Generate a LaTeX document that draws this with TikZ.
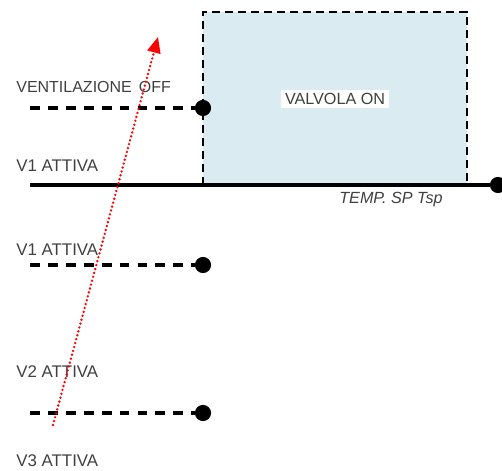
\documentclass[tikz,border=0pt]{standalone}
\usepackage{fontspec}
\setmainfont{Liberation Sans}
\usetikzlibrary{arrows.meta}

\definecolor{celeste}{HTML}{DAECF2}
\definecolor{grigiotesto}{HTML}{404040}

\tikzset{
  punto/.style={circle, fill=black, inner sep=0pt, minimum size=9.2pt},
  tratto/.style={line width=1.8pt, dash pattern=on 5.6pt off 4.6pt},
  bordo/.style={line width=1.4pt, dash pattern=on 4.6pt off 2.8pt},
  etichetta/.style={anchor=base west, inner sep=0pt, text=grigiotesto, font=\fontsize{9.6}{11}\selectfont},
}

\begin{document}
\begin{tikzpicture}[x=0.02cm, y=-0.02cm]
    \useasboundingbox (0,0) rectangle (502,470);

    %Zona valvola
    \draw[bordo, fill=celeste] (203,185) -- (203,12) -- (467,12) -- (467,185);
    \node[fill=white, inner sep=2pt, text=grigiotesto, font=\fontsize{9.2}{11}\selectfont] (valvola) at (335,99) {VALVOLA ON};

    %Asse temperatura
    \coordinate (asse) at (30,185);
    \node[punto] (tsp) at (498,185) {};
    \draw[line width=2pt] (asse) -- (tsp);
    \node[anchor=north, fill=white, inner xsep=2pt, inner ysep=3pt, text=grigiotesto, font=\fontsize{9.2}{11}\selectfont\itshape] (temp) at (391,186.5) {TEMP. SP Tsp};

    %Soglie
    \node[punto] (p0) at (203,108) {};
    \node[punto] (p1) at (203,265) {};
    \node[punto] (p2) at (203,413) {};
    \coordinate (s0) at (30,108);
    \coordinate (s1) at (30,265);
    \coordinate (s2) at (30,413);
    \draw[tratto] (s0) -- (p0);
    \draw[tratto] (s1) -- (p1);
    \draw[tratto] (s2) -- (p2);

    %Etichette
    \node[etichetta, font=\fontsize{9.1}{11}\selectfont] (vent) at (16,92.5) {VENTILAZIONE\hspace{4pt}OFF};
    \node[etichetta] (va) at (16,171.5) {V1 ATTIVA};
    \node[etichetta] (vb) at (16,255) {V1 ATTIVA};
    \node[etichetta] (vc) at (16,377.5) {V2 ATTIVA};
    \node[etichetta] (vd) at (16,466) {V3 ATTIVA};

    %Freccia
    \coordinate (inizio) at (53,425);
    \coordinate (fine) at (158,37);
    \draw[red, line width=1.5pt, line cap=round, dash pattern=on 0pt off 2.3pt,
          -{Triangle[length=9pt, width=7.5pt, line cap=butt, sep=0pt]}] (inizio) -- (fine);

\end{tikzpicture}
\end{document}
